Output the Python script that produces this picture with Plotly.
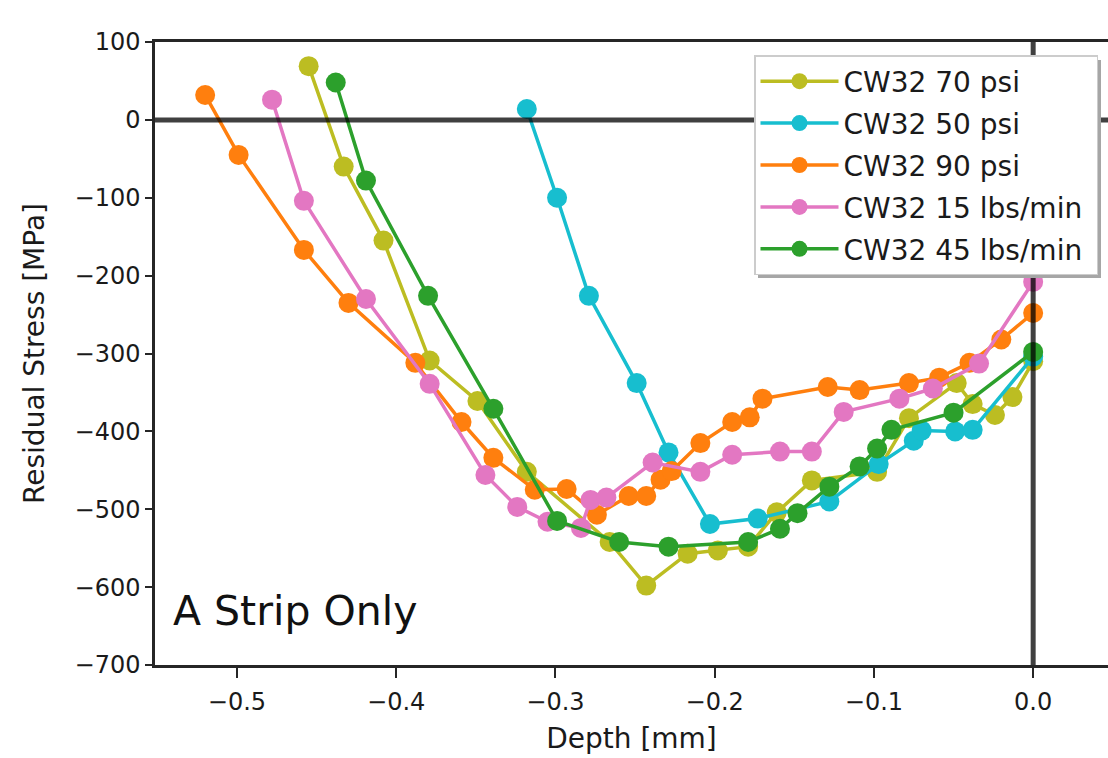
import plotly.graph_objects as go

# ---- data (depth in mm, residual stress in MPa) ----
olive_name = "CW32 70 psi"
olive_x = [-0.455, -0.433, -0.408, -0.379, -0.349, -0.318, -0.266, -0.243, -0.217, -0.198,
           -0.179, -0.161, -0.139, -0.098, -0.078, -0.048, -0.038, -0.024, -0.013, 0.0]
olive_y = [69, -60, -155, -309, -361, -452, -542, -598, -557, -553,
           -548, -504, -463, -452, -383, -338, -365, -379, -356, -310]

cyan_name = "CW32 50 psi"
cyan_x = [-0.318, -0.299, -0.279, -0.249, -0.229, -0.203, -0.173, -0.128, -0.097, -0.075,
          -0.070, -0.049, -0.038, 0.0]
cyan_y = [14, -100, -226, -338, -427, -519, -512, -490, -442, -412,
          -399, -400, -398, -304]

orange_name = "CW32 90 psi"
orange_x = [-0.520, -0.499, -0.458, -0.430, -0.388, -0.359, -0.339, -0.313, -0.293, -0.274,
            -0.254, -0.243, -0.234, -0.227, -0.209, -0.189, -0.178, -0.170, -0.129, -0.109,
            -0.078, -0.059, -0.040, -0.020, 0.0]
orange_y = [32, -45, -167, -235, -312, -388, -434, -475, -474, -507,
            -483, -483, -462, -451, -415, -388, -382, -358, -343, -347,
            -338, -331, -312, -282, -248]

pink_name = "CW32 15 lbs/min"
pink_x = [-0.478, -0.458, -0.419, -0.379, -0.344, -0.324, -0.305, -0.284, -0.278, -0.268,
          -0.239, -0.209, -0.189, -0.159, -0.139, -0.119, -0.084, -0.063, -0.034, 0.0]
pink_y = [26, -104, -230, -339, -456, -497, -516, -524, -488, -485,
          -440, -452, -430, -426, -426, -375, -358, -345, -313, -208]

green_name = "CW32 45 lbs/min"
green_x = [-0.438, -0.419, -0.380, -0.339, -0.299, -0.260, -0.229, -0.179, -0.159, -0.148,
           -0.128, -0.109, -0.098, -0.089, -0.050, 0.0]
green_y = [48, -78, -226, -371, -515, -542, -548, -542, -525, -505,
           -471, -445, -422, -398, -376, -298]

series = [
    (olive_name, olive_x, olive_y, "#bcbd22"),
    (cyan_name, cyan_x, cyan_y, "#17becf"),
    (orange_name, orange_x, orange_y, "#ff7f0e"),
    (pink_name, pink_x, pink_y, "#e377c2"),
    (green_name, green_x, green_y, "#2ca02c"),
]

x_ticks = [-0.5, -0.4, -0.3, -0.2, -0.1, 0.0]
y_ticks = [100, 0, -100, -200, -300, -400, -500, -600, -700]

FONT = "DejaVu Sans"
TXT = "#1a1a1a"

W, H = 1108, 758
ML, MR, MT, MB = 155, 0, 42, 93
PW, PH = W - ML - MR, H - MT - MB


def px_x(p):
    return (p - ML) / PW


def px_y(p):
    return (H - MB - p) / PH


fig = go.Figure()
for name, xs, ys, col in series:
    fig.add_trace(go.Scatter(
        x=xs, y=ys, name=name + "\u00a0", legendgroup=name, mode="lines+markers",
        line=dict(color=col, width=3.5),
        marker=dict(color=col, size=20),
    ))

# zero lines (drawn on top, semi-transparent black)
fig.add_shape(type="line", xref="x domain", yref="y", x0=0, x1=1, y0=0, y1=0,
              line=dict(color="rgba(0,0,0,0.75)", width=5), layer="above")
fig.add_shape(type="line", xref="x", yref="y domain", x0=0, x1=0, y0=0, y1=1,
              line=dict(color="rgba(0,0,0,0.75)", width=5), layer="above")

# legend shadow
fig.add_shape(type="rect", xref="paper", yref="paper",
              x0=px_x(758), x1=px_x(1101), y0=px_y(278), y1=px_y(60),
              fillcolor="#a6a6a6", line=dict(width=0), layer="above")

fig.add_annotation(text="A Strip Only", xref="paper", yref="paper",
                   x=px_x(171), y=px_y(611), xanchor="left", yanchor="middle",
                   showarrow=False, font=dict(family=FONT, size=41, color="#111"))

fig.update_layout(
    width=W, height=H,
    margin=dict(l=ML, r=MR, t=MT, b=MB),
    paper_bgcolor="white", plot_bgcolor="white",
    font=dict(family=FONT, color=TXT),
    showlegend=True,
    legend=dict(
        x=px_x(754), y=px_y(55), xanchor="left", yanchor="top",
        bgcolor="white", bordercolor="#cccccc", borderwidth=1.5,
        font=dict(family=FONT, size=28, color=TXT),
        itemwidth=78, tracegroupgap=2.5,
    ),
    xaxis=dict(
        range=[-0.5515, 0.047], tickvals=x_ticks, tickformat=".1f",
        showgrid=False, zeroline=False,
        showline=True, linecolor="#262626", linewidth=2.5, mirror=True,
        ticks="outside", ticklen=10, tickwidth=2, tickcolor="#262626",
        ticklabelstandoff=3,
        tickfont=dict(family=FONT, size=24, color=TXT),
        title=dict(text="Depth [mm]", font=dict(family=FONT, size=28, color=TXT), standoff=14),
    ),
    yaxis=dict(
        range=[-700, 100], tickvals=y_ticks,
        showgrid=False, zeroline=False,
        showline=True, linecolor="#262626", linewidth=2.5,
        ticks="outside", ticklen=7, tickwidth=2, tickcolor="#262626",
        tickfont=dict(family=FONT, size=24, color=TXT),
        title=dict(text="Residual Stress [MPa]", font=dict(family=FONT, size=28, color=TXT), standoff=22),
    ),
)

fig.write_html("out.html", config={"displayModeBar": False},
               post_script="document.body.style.margin='0';document.body.style.overflow='hidden';")
